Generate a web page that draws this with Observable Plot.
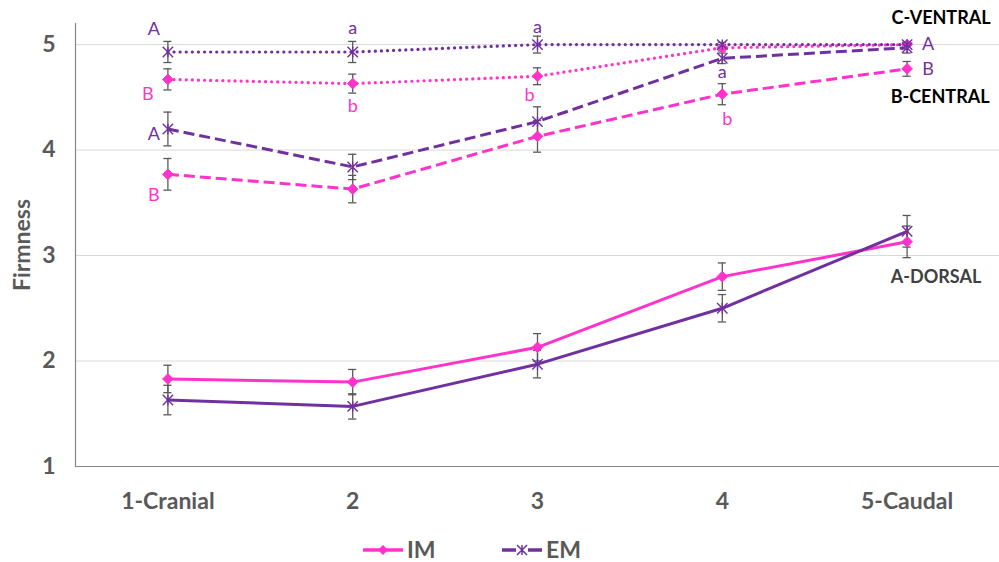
<!DOCTYPE html>
<html><head><meta charset="utf-8">
<script src="https://cdn.jsdelivr.net/npm/d3@7"></script>
<script src="https://cdn.jsdelivr.net/npm/@observablehq/plot@0.6"></script>
<style>
body{margin:0;background:#fff;font-family:Lato, "Open Sans", sans-serif;}
#wrap{position:relative;width:999px;height:562px;overflow:hidden;}
#legend{position:absolute;left:0;top:0;width:999px;height:562px;pointer-events:none;}
.lg{position:absolute;display:flex;align-items:center;font:bold 23px/22px Lato, sans-serif;color:#595959;height:22px;}
</style></head><body>
<div id="wrap"><div id="chart"></div><div id="legend"></div></div>
<script>
// ---------- data ----------
const categories = ["1-Cranial", "2", "3", "4", "5-Caudal"];
const yTicks = [1, 2, 3, 4, 5];
const gridTicks = [2, 3, 4, 5];

const imDorsal   = [1.83, 1.80, 2.13, 2.80, 3.13];
const emDorsal   = [1.63, 1.57, 1.97, 2.50, 3.23];
const imCentral  = [3.77, 3.63, 4.13, 4.53, 4.77];
const emCentral  = [4.20, 3.84, 4.27, 4.87, 4.97];
const imVentral  = [4.67, 4.63, 4.70, 4.97, 5.00];
const emVentral  = [4.93, 4.93, 5.00, 5.00, 5.00];

const imDorsalErr  = [0.13, 0.12, 0.13, 0.13, 0.15];
const emDorsalErr  = [0.14, 0.12, 0.13, 0.13, 0.15];
const imCentralErr = [0.15, 0.13, 0.15, 0.10, 0.07];
const emCentralErr = [0.16, 0.12, 0.14, 0.05, 0.05];
const imVentralErr = [0.10, 0.09, 0.08, 0.03, 0.02];
const emVentralErr = [0.10, 0.10, 0.08, 0.02, 0.02];

const seriesNames = ["IM", "EM"];
const regionNames = ["A-DORSAL", "B-CENTRAL", "C-VENTRAL"];

// significance letters
const letterText   = ["A", "B", "A", "B", "a", "b", "a", "b", "a", "b", "A", "B"];
const letterCat    = [0, 0, 0, 0, 1, 1, 2, 2, 3, 3, 4, 4];
const letterSeries = ["EM", "IM", "EM", "IM", "EM", "IM", "EM", "IM", "EM", "IM", "EM", "IM"];
const letterRegion = ["C-VENTRAL", "C-VENTRAL", "B-CENTRAL", "B-CENTRAL", "C-VENTRAL", "C-VENTRAL",
                      "C-VENTRAL", "C-VENTRAL", "B-CENTRAL", "B-CENTRAL", "C-VENTRAL", "B-CENTRAL"];
const letterColorKey = ["EM", "IM", "EM", "IM", "EM", "IM", "EM", "IM", "EM", "IM", "EM", "EM"];

// ---------- build tables ----------
const values = {
  "A-DORSAL":  {IM: [imDorsal, imDorsalErr],  EM: [emDorsal, emDorsalErr]},
  "B-CENTRAL": {IM: [imCentral, imCentralErr], EM: [emCentral, emCentralErr]},
  "C-VENTRAL": {IM: [imVentral, imVentralErr], EM: [emVentral, emVentralErr]}
};
const rows = [];
for (const region of regionNames) for (const s of seriesNames) {
  const [v, e] = values[region][s];
  categories.forEach((c, i) => rows.push({i, cat: c, region, series: s, value: v[i], err: e[i]}));
}
// style / placement (not data)
const colors = {IM: "#FF33CC", EM: "#7030A0"};
const dashes = {"A-DORSAL": null, "B-CENTRAL": "11,5", "C-VENTRAL": "0.1,6"};
const letterOffsets = [[-14,-23],[-20,15],[-14,5],[-14,21],[0,-24],[0,23],[0,-17],[-8,19],[0,14],[5,25],[21,0],[21,0]];
const letters = letterText.map((t, k) => {
  const [v] = values[letterRegion[k]][letterSeries[k]];
  return {i: letterCat[k], value: v[letterCat[k]], text: t, color: colors[letterColorKey[k]],
          dx: letterOffsets[k][0], dy: letterOffsets[k][1]};
});
const regionLabelAnchors = [
  {text: "C-VENTRAL", i: 4, value: emVentral[4], dx: 34, dy: -26, fill: "#000"},
  {text: "B-CENTRAL", i: 4, value: imCentral[4], dx: 33, dy: 28, fill: "#000"},
  {text: "A-DORSAL", i: 4, value: imDorsal[4], dx: 29, dy: 35, fill: "#404040"}
];

const star = {
  draw(ctx, size) {
    const r = Math.sqrt(size / Math.PI);
    ctx.moveTo(-r, -r); ctx.lineTo(r, r);
    ctx.moveTo(r, -r); ctx.lineTo(-r, r);
    ctx.moveTo(0, -r); ctx.lineTo(0, r);
  }
};

const lineMarks = [];
for (const region of regionNames) for (const s of seriesNames) {
  const data = rows.filter(d => d.region === region && d.series === s);
  const opts = {x: "i", y: "value", stroke: colors[s], strokeWidth: 3};
  if (dashes[region]) {
    opts.strokeDasharray = dashes[region];
    opts.strokeLinecap = region === "C-VENTRAL" ? "round" : "butt";
    if (region === "C-VENTRAL") opts.strokeWidth = 3.2;
  }
  lineMarks.push(Plot.line(data, opts));
}

const capHalf = 0.022;
const chart = Plot.plot({
  width: 999,
  height: 516,
  marginLeft: 75,
  marginRight: 0,
  marginTop: 23,
  marginBottom: 50,
  style: {fontFamily: "Lato, sans-serif", background: "#fff", overflow: "visible"},
  x: {domain: [-0.5, 4.5]},
  y: {domain: [1, 5.2]},
  marks: [
    Plot.gridY(gridTicks, {stroke: "#d9d9d9", strokeOpacity: 1, strokeWidth: 1}),
    Plot.ruleX([-0.5], {stroke: "#868686", strokeWidth: 1.2}),
    Plot.ruleY([1], {stroke: "#868686", strokeWidth: 1.2}),
    Plot.axisY({ticks: yTicks, tickFormat: d => String(d), tickSize: 0, tickPadding: 20, fontSize: 23, fontWeight: "bold", fill: "#595959",
      label: "Firmness", labelAnchor: "center", labelArrow: "none", labelOffset: 62}),
    Plot.axisX({ticks: [0, 1, 2, 3, 4], tickFormat: i => categories[i], tickSize: 0, tickPadding: 26,
      fontSize: 23, fontWeight: "bold", fill: "#595959", label: null}),
    ...lineMarks,
    Plot.ruleX(rows, {x: "i", y1: d => d.value - d.err, y2: d => d.value + d.err, stroke: "#595959", strokeWidth: 1.3}),
    Plot.ruleY(rows, {y: d => d.value + d.err, x1: d => d.i - capHalf, x2: d => d.i + capHalf, stroke: "#595959", strokeWidth: 1.3}),
    Plot.ruleY(rows, {y: d => d.value - d.err, x1: d => d.i - capHalf, x2: d => d.i + capHalf, stroke: "#595959", strokeWidth: 1.3}),
    Plot.dot(rows.filter(d => d.series === "IM"), {x: "i", y: "value", symbol: "diamond2", r: 4.8, fill: colors.IM, stroke: colors.IM, strokeWidth: 1}),
    Plot.dot(rows.filter(d => d.series === "EM"), {x: "i", y: "value", symbol: star, r: 5.2, fill: "none", stroke: colors.EM, strokeWidth: 1.4}),
    ...letters.map(l => Plot.text([l], {x: "i", y: "value", text: "text", fill: l.color, dx: l.dx, dy: l.dy, fontSize: 18})),
    ...regionLabelAnchors.map(l => Plot.text([l], {x: "i", y: "value", text: "text", dx: l.dx, dy: l.dy, fill: l.fill, fontSize: 18, fontWeight: "bold"}))
  ]
});
document.getElementById("chart").appendChild(chart);

// legend
const legend = document.getElementById("legend");
function item(left, name, symbolSvg) {
  const el = document.createElement("div");
  el.className = "lg";
  el.style.left = left + "px";
  el.style.top = "538px";
  el.innerHTML = `<svg width="42" height="22" style="margin-right:3px">${symbolSvg}</svg><span>${name}</span>`;
  legend.appendChild(el);
}
item(362, seriesNames[0], `<line x1="1" x2="41" y1="12" y2="12" stroke="${colors.IM}" stroke-width="3.5"/><path d="M21,7 L26,12 L21,17 L16,12Z" fill="${colors.IM}"/>`);
item(501, seriesNames[1], `<line x1="1" x2="15" y1="12" y2="12" stroke="${colors.EM}" stroke-width="3.5"/><line x1="27" x2="41" y1="12" y2="12" stroke="${colors.EM}" stroke-width="3.5"/><path d="M16,7 L26,17 M26,7 L16,17 M21,7 L21,17" stroke="${colors.EM}" stroke-width="1.5" fill="none"/>`);
</script>
</body></html>
